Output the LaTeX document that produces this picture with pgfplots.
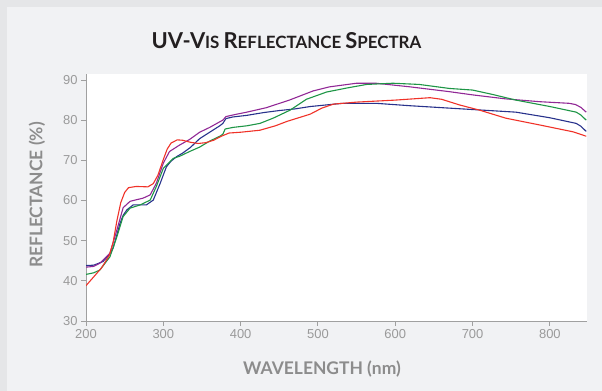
\documentclass[border=0pt]{standalone}
\usepackage{pgfplots}
\pgfplotsset{compat=1.18}
\usepackage{fontspec}
\setmainfont{Lato}
\newfontfamily\lato{Lato}
\newfontfamily\arial{Liberation Sans}
\definecolor{bgmain}{HTML}{F1F2F4}
\definecolor{bgstrip}{HTML}{E5E6E8}
\definecolor{titlec}{HTML}{231F20}
\definecolor{labelc}{HTML}{8C8C8C}
\definecolor{tickc}{HTML}{9A9A9A}
\definecolor{axisc}{HTML}{A0A0A0}
\definecolor{cnavy}{RGB}{40,50,140}
\definecolor{cpurple}{RGB}{145,40,150}
\definecolor{cgreen}{RGB}{30,150,70}
\definecolor{cred}{RGB}{240,50,40}
\begin{document}
\begin{tikzpicture}
\fill[bgmain] (0,0) rectangle (602bp,391bp);
\fill[bgstrip] (0,0) rectangle (7bp,391bp);
\fill[bgstrip] (0,384bp) rectangle (602bp,391bp);
\begin{axis}[
  at={(86bp,70bp)}, anchor=south west,
  scale only axis, width=501bp, height=247bp,
  xmin=200, xmax=848, ymin=30, ymax=91.5,
  axis x line=bottom, axis y line=left,
  axis line style={-, axisc, line width=0.9pt},
  axis background/.style={fill=white},
  xtick={200,300,...,800}, ytick={30,40,...,90},
  tick align=outside, major tick length=5bp,
  tick style={axisc, line width=0.9pt},
  /pgf/number format/assume math mode=true,
  ticklabel style={font=\arial\fontsize{13}{13}\selectfont, text=tickc},
  /pgf/number format/1000 sep={},
  every axis plot/.append style={line width=1.1pt, line join=round},
]
\addplot[cnavy] coordinates {
(200,43.8)(210,43.9)(222,44.8)(230,46.5)(235,48.1)(240,51.5)(244,54.3)(248,56.3)(253,57.7)(261,58.9)(278,58.9)(287,60.1)(296,64.3)(304,68.4)(310,69.8)(317,70.9)(325,71.8)(335,73.2)(347,75.4)(360,77.0)(373,78.6)(377,79.2)(381,80.4)(390,80.8)(408,81.2)(430,81.9)(450,82.4)(470,82.8)(490,83.4)(532,84.2)(575,84.2)(619,83.6)(670,83.0)(713,82.5)(756,82.0)(800,80.6)(834,79.2)(840,78.5)(847,77.2)
};
\addplot[cpurple] coordinates {
(200,43.4)(210,43.6)(218,44.4)(231,46.9)(240,52.7)(248,58.2)(257,59.8)(274,60.6)(283,61.4)(291,64.3)(300,69.3)(308,72.2)(321,73.8)(334,75.2)(347,77.0)(360,78.2)(373,79.6)(377,80.0)(381,80.9)(395,81.5)(408,82.0)(433,83.1)(463,85.0)(494,87.3)(515,88.3)(550,89.2)(575,89.2)(619,88.3)(670,87.1)(700,86.3)(743,85.3)(787,84.6)(825,84.2)(833,83.9)(840,83.2)(847,82.0)
};
\addplot[cgreen] coordinates {
(200,41.6)(210,42.0)(218,42.7)(231,46.0)(240,51.0)(248,56.0)(257,58.1)(270,58.9)(283,60.1)(291,63.5)(300,68.0)(313,70.5)(321,71.0)(334,72.2)(347,73.3)(360,74.8)(373,76.0)(377,76.5)(380,77.8)(390,78.2)(408,78.6)(425,79.2)(442,80.5)(464,82.5)(485,85.2)(511,87.0)(537,88.0)(563,88.9)(597,89.2)(631,88.9)(670,87.9)(700,87.5)(726,86.4)(756,85.0)(800,83.4)(834,82.0)(840,81.3)(847,80.0)
};
\addplot[cred] coordinates {
(200,38.8)(210,41.0)(220,43.2)(230,46.3)(235,49.5)(240,55.0)(245,59.5)(250,62.0)(255,63.2)(265,63.5)(280,63.4)(287,64.2)(293,66.3)(300,70.2)(305,72.8)(310,74.3)(318,75.1)(325,75.0)(335,74.5)(345,74.2)(355,74.4)(365,75.0)(375,76.0)(385,76.8)(400,77.0)(425,77.5)(445,78.6)(460,79.7)(475,80.6)(490,81.5)(505,83.0)(520,84.0)(550,84.5)(600,85.0)(645,85.6)(660,85.2)(683,83.8)(709,82.5)(743,80.5)(787,78.8)(830,77.1)(847,76.0)
};
\end{axis}
\node[text=titlec, font=\lato\bfseries] at (286.5bp,350bp)
  {\fontsize{22}{24}\selectfont UV-V\fontsize{17}{20}\selectfont IS
   \fontsize{22}{24}\selectfont R\fontsize{17}{20}\selectfont EFLECTANCE
   \fontsize{22}{24}\selectfont S\fontsize{17}{20}\selectfont PECTRA};
\node[rotate=90, text=labelc, font=\lato\bfseries\fontsize{17.5}{20}\selectfont] at (37bp,196bp) {REFLECTANCE (\%)};
\node[text=labelc, font=\lato\bfseries\fontsize{17.5}{20}\selectfont] at (322bp,21.5bp) {WAVELENGTH (nm)};
\end{tikzpicture}
\end{document}
